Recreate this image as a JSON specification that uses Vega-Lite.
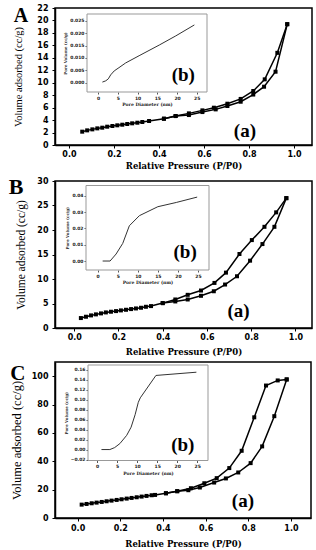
{
  "$schema": "https://vega.github.io/schema/vega-lite/v6.json",
  "padding": {"left": 8, "top": 3, "right": 0, "bottom": 0},
  "background": "white",
  "config": {
    "view": {"stroke": "black", "strokeWidth": 1.5, "fill": "white"}
  },
  "datasets": {
    "isoA": [
      {"p":0.059,"v":2.14,"branch":"ads"},{"p":0.081,"v":2.35,"branch":"ads"},{"p":0.104,"v":2.51,"branch":"ads"},{"p":0.126,"v":2.67,"branch":"ads"},{"p":0.148,"v":2.78,"branch":"ads"},{"p":0.17,"v":2.94,"branch":"ads"},{"p":0.193,"v":3.05,"branch":"ads"},{"p":0.215,"v":3.16,"branch":"ads"},{"p":0.237,"v":3.26,"branch":"ads"},{"p":0.259,"v":3.37,"branch":"ads"},{"p":0.281,"v":3.48,"branch":"ads"},{"p":0.304,"v":3.58,"branch":"ads"},{"p":0.326,"v":3.69,"branch":"ads"},{"p":0.356,"v":3.85,"branch":"ads"},{"p":0.422,"v":4.22,"branch":"ads"},{"p":0.474,"v":4.65,"branch":"ads"},{"p":0.533,"v":4.81,"branch":"ads"},{"p":0.593,"v":5.29,"branch":"ads"},{"p":0.652,"v":5.72,"branch":"ads"},{"p":0.704,"v":6.26,"branch":"ads"},{"p":0.763,"v":6.95,"branch":"ads"},{"p":0.819,"v":8.1,"branch":"ads"},{"p":0.867,"v":9.36,"branch":"ads"},{"p":0.918,"v":11.77,"branch":"ads"},{"p":0.97,"v":19.4,"branch":"ads"},
      {"p":0.97,"v":19.4,"branch":"des"},{"p":0.926,"v":14.8,"branch":"des"},{"p":0.87,"v":10.54,"branch":"des"},{"p":0.819,"v":8.67,"branch":"des"},{"p":0.763,"v":7.4,"branch":"des"},{"p":0.704,"v":6.63,"branch":"des"},{"p":0.644,"v":5.99,"branch":"des"},{"p":0.593,"v":5.56,"branch":"des"},{"p":0.533,"v":5.08,"branch":"des"},{"p":0.474,"v":4.65,"branch":"des"},{"p":0.422,"v":4.22,"branch":"des"}
    ],
    "isoB": [
      {"p":0.03,"v":2.03,"branch":"ads"},{"p":0.053,"v":2.3,"branch":"ads"},{"p":0.076,"v":2.57,"branch":"ads"},{"p":0.098,"v":2.78,"branch":"ads"},{"p":0.121,"v":2.98,"branch":"ads"},{"p":0.143,"v":3.18,"branch":"ads"},{"p":0.166,"v":3.32,"branch":"ads"},{"p":0.189,"v":3.45,"branch":"ads"},{"p":0.211,"v":3.59,"branch":"ads"},{"p":0.234,"v":3.72,"branch":"ads"},{"p":0.257,"v":3.86,"branch":"ads"},{"p":0.279,"v":3.99,"branch":"ads"},{"p":0.302,"v":4.13,"branch":"ads"},{"p":0.324,"v":4.33,"branch":"ads"},{"p":0.347,"v":4.47,"branch":"ads"},{"p":0.4,"v":5.08,"branch":"ads"},{"p":0.457,"v":5.42,"branch":"ads"},{"p":0.513,"v":5.82,"branch":"ads"},{"p":0.573,"v":6.57,"branch":"ads"},{"p":0.631,"v":7.5,"branch":"ads"},{"p":0.682,"v":8.87,"branch":"ads"},{"p":0.736,"v":10.56,"branch":"ads"},{"p":0.795,"v":13.74,"branch":"ads"},{"p":0.851,"v":17.13,"branch":"ads"},{"p":0.905,"v":20.65,"branch":"ads"},{"p":0.959,"v":26.5,"branch":"ads"},
      {"p":0.959,"v":26.5,"branch":"des"},{"p":0.913,"v":23.6,"branch":"des"},{"p":0.86,"v":20.65,"branch":"des"},{"p":0.803,"v":17.94,"branch":"des"},{"p":0.747,"v":15.1,"branch":"des"},{"p":0.686,"v":11.3,"branch":"des"},{"p":0.634,"v":9.2,"branch":"des"},{"p":0.573,"v":7.65,"branch":"des"},{"p":0.513,"v":6.77,"branch":"des"},{"p":0.457,"v":5.82,"branch":"des"},{"p":0.4,"v":5.08,"branch":"des"}
    ],
    "isoC": [
      {"p":0.019,"v":9.43,"branch":"ads"},{"p":0.042,"v":9.9,"branch":"ads"},{"p":0.066,"v":10.38,"branch":"ads"},{"p":0.089,"v":10.85,"branch":"ads"},{"p":0.113,"v":11.32,"branch":"ads"},{"p":0.136,"v":11.79,"branch":"ads"},{"p":0.159,"v":12.26,"branch":"ads"},{"p":0.183,"v":12.74,"branch":"ads"},{"p":0.206,"v":13.2,"branch":"ads"},{"p":0.23,"v":13.68,"branch":"ads"},{"p":0.253,"v":14.15,"branch":"ads"},{"p":0.277,"v":14.62,"branch":"ads"},{"p":0.3,"v":15.1,"branch":"ads"},{"p":0.323,"v":15.57,"branch":"ads"},{"p":0.347,"v":16.04,"branch":"ads"},{"p":0.363,"v":16.27,"branch":"ads"},{"p":0.414,"v":17.45,"branch":"ads"},{"p":0.467,"v":18.9,"branch":"ads"},{"p":0.519,"v":19.6,"branch":"ads"},{"p":0.573,"v":21.5,"branch":"ads"},{"p":0.64,"v":25.0,"branch":"ads"},{"p":0.695,"v":27.9,"branch":"ads"},{"p":0.753,"v":32.1,"branch":"ads"},{"p":0.811,"v":38.7,"branch":"ads"},{"p":0.865,"v":50.5,"branch":"ads"},{"p":0.922,"v":71.8,"branch":"ads"},{"p":0.98,"v":97.7,"branch":"ads"},
      {"p":0.98,"v":97.7,"branch":"des"},{"p":0.938,"v":97.0,"branch":"des"},{"p":0.883,"v":93.4,"branch":"des"},{"p":0.828,"v":71.0,"branch":"des"},{"p":0.769,"v":47.4,"branch":"des"},{"p":0.711,"v":35.2,"branch":"des"},{"p":0.652,"v":28.1,"branch":"des"},{"p":0.594,"v":24.5,"branch":"des"},{"p":0.531,"v":21.0,"branch":"des"},{"p":0.467,"v":18.9,"branch":"des"},{"p":0.414,"v":17.45,"branch":"des"}
    ],
    "poreA": [
      {"d":1.1,"pv":0.0003},{"d":1.95,"pv":0.0008},{"d":2.6,"pv":0.0016},{"d":3.2,"pv":0.0032},{"d":4.1,"pv":0.0048},{"d":5.3,"pv":0.0061},{"d":7.0,"pv":0.008},{"d":10.4,"pv":0.0109},{"d":15.5,"pv":0.0152},{"d":19.7,"pv":0.0189},{"d":24.4,"pv":0.0233}
    ],
    "poreB": [
      {"d":1.25,"pv":0.0},{"d":3.1,"pv":0.0},{"d":4.6,"pv":0.0043},{"d":6.25,"pv":0.0108},{"d":7.9,"pv":0.0216},{"d":10.4,"pv":0.0278},{"d":15.0,"pv":0.0333},{"d":19.6,"pv":0.0359},{"d":24.8,"pv":0.0392}
    ],
    "poreC": [
      {"d":1.1,"pv":0.0},{"d":3.2,"pv":0.0},{"d":4.4,"pv":0.004},{"d":5.7,"pv":0.012},{"d":7.4,"pv":0.0286},{"d":8.5,"pv":0.045},{"d":9.5,"pv":0.07},{"d":10.3,"pv":0.095},{"d":10.8,"pv":0.104},{"d":14.7,"pv":0.149},{"d":24.8,"pv":0.1555}
    ]
  },
  "vconcat": [
    {
      "title": {"text": "A", "anchor": "start", "frame": "bounds", "orient": "top", "offset": -22, "fontSize": 20, "font": "Liberation Serif", "fontWeight": "bold", "color": "black"},
      "width": 257, "height": 137,
      "resolve": {"scale": {"x": "independent", "y": "independent"}, "axis": {"x": "independent", "y": "independent"}},
      "layer": [
        {
          "layer": [
            {
              "data": {"name": "isoA"},
              "mark": {"type": "line", "color": "black", "strokeWidth": 1.5, "point": {"shape": "square", "filled": true, "size": 16, "color": "black"}},
              "encoding": {
                "x": {"field": "p", "type": "quantitative", "scale": {"domain": [-0.062, 1.08], "nice": false, "zero": false},
                      "axis": {"orient": "bottom", "values": [0, 0.2, 0.4, 0.6, 0.8, 1.0], "format": ".1f", "grid": false, "labelOverlap": false, "labelFont": "DejaVu Sans", "labelFontWeight": "bold", "labelFontSize": 8, "labelColor": "black", "domainColor": "black", "domainWidth": 1.5, "tickColor": "black", "tickSize": 3, "tickWidth": 1, "labelPadding": 2, "title": "Relative Pressure (P/P0)", "titleColor": "black", "titleFont": "DejaVu Serif", "titleFontWeight": "bold", "titleFontSize": 8.5, "titlePadding": 3}},
                "y": {"field": "v", "type": "quantitative", "scale": {"domain": [0, 22], "nice": false},
                      "axis": {"orient": "left", "values": [0,2,4,6,8,10,12,14,16,18,20,22], "grid": false, "labelOverlap": false, "labelFont": "DejaVu Sans", "labelFontWeight": "bold", "labelFontSize": 8, "labelColor": "black", "domainColor": "black", "domainWidth": 1.5, "tickColor": "black", "tickSize": 3, "tickWidth": 1, "labelPadding": 4, "title": "Volume adsorbed (cc/g)", "titleColor": "black", "titleFont": "Liberation Serif", "titleFontWeight": "normal", "titleFontSize": 10.5, "titlePadding": 13}},
                "detail": {"field": "branch"}
              }
            },
            {
              "data": {"values": [{}]},
              "mark": {"type": "text", "text": "(a)", "font": "Liberation Serif", "fontWeight": "bold", "fontSize": 19, "color": "black", "baseline": "middle"},
              "encoding": {
                "x": {"datum": 0.782, "type": "quantitative", "axis": {"orient": "bottom", "values": [0, 0.2, 0.4, 0.6, 0.8, 1.0], "format": ".1f", "grid": false, "labelOverlap": false, "labelFont": "DejaVu Sans", "labelFontWeight": "bold", "labelFontSize": 8, "labelColor": "black", "domainColor": "black", "domainWidth": 1.5, "tickColor": "black", "tickSize": 3, "tickWidth": 1, "labelPadding": 2, "title": "Relative Pressure (P/P0)", "titleColor": "black", "titleFont": "DejaVu Serif", "titleFontWeight": "bold", "titleFontSize": 8.5, "titlePadding": 3}},
                "y": {"datum": 2.25, "type": "quantitative", "axis": {"orient": "left", "values": [0,2,4,6,8,10,12,14,16,18,20,22], "grid": false, "labelOverlap": false, "labelFont": "DejaVu Sans", "labelFontWeight": "bold", "labelFontSize": 8, "labelColor": "black", "domainColor": "black", "domainWidth": 1.5, "tickColor": "black", "tickSize": 3, "tickWidth": 1, "labelPadding": 4, "title": "Volume adsorbed (cc/g)", "titleColor": "black", "titleFont": "Liberation Serif", "titleFontWeight": "normal", "titleFontSize": 10.5, "titlePadding": 13}}
              }
            }
          ]
        },
        {
          "layer": [
            {
              "data": {"values": [{}]},
              "mark": {"type": "rect", "fill": "white", "stroke": "#999", "strokeWidth": 1},
              "encoding": {
                "x": {"datum": -2.8, "type": "quantitative", "scale": {"domain": [-2.8, 27.6], "range": [32, 152], "nice": false, "zero": false},
                      "axis": {"orient": "bottom", "offset": -53, "domain": false, "grid": false, "labelOverlap": false, "values": [0,5,10,15,20,25], "labelFont": "DejaVu Sans", "labelFontWeight": "bold", "labelFontSize": 4.5, "tickSize": 2, "labelPadding": 1, "tickColor": "#555", "labelColor": "#222", "title": "Pore Diameter (nm)", "titleColor": "#222", "titleFont": "DejaVu Serif", "titleFontWeight": "bold", "titleFontSize": 4.5, "titlePadding": 2}},
                "x2": {"datum": 27.6},
                "y": {"datum": -0.0037, "type": "quantitative", "scale": {"domain": [-0.0037, 0.0277], "range": [84, 6], "nice": false, "zero": false},
                      "axis": {"orient": "left", "offset": -32, "domain": false, "grid": false, "labelOverlap": false, "values": [0, 0.005, 0.01, 0.015, 0.02, 0.025], "format": ".3f", "labelFont": "DejaVu Sans", "labelFontWeight": "bold", "labelFontSize": 4.5, "tickSize": 2, "labelPadding": 1, "tickColor": "#555", "labelColor": "#222", "title": "Pore Volume (cc/g)", "titleColor": "#222", "titleFont": "DejaVu Serif", "titleFontWeight": "bold", "titleFontSize": 4, "titlePadding": 2}},
                "y2": {"datum": 0.0277}
              }
            },
            {
              "data": {"name": "poreA"},
              "mark": {"type": "line", "color": "#333", "strokeWidth": 1},
              "encoding": {
                "x": {"field": "d", "type": "quantitative", "axis": {"orient": "bottom", "offset": -53, "domain": false, "grid": false, "labelOverlap": false, "values": [0,5,10,15,20,25], "labelFont": "DejaVu Sans", "labelFontWeight": "bold", "labelFontSize": 4.5, "tickSize": 2, "labelPadding": 1, "tickColor": "#555", "labelColor": "#222", "title": "Pore Diameter (nm)", "titleColor": "#222", "titleFont": "DejaVu Serif", "titleFontWeight": "bold", "titleFontSize": 4.5, "titlePadding": 2}},
                "y": {"field": "pv", "type": "quantitative", "axis": {"orient": "left", "offset": -32, "domain": false, "grid": false, "labelOverlap": false, "values": [0, 0.005, 0.01, 0.015, 0.02, 0.025], "format": ".3f", "labelFont": "DejaVu Sans", "labelFontWeight": "bold", "labelFontSize": 4.5, "tickSize": 2, "labelPadding": 1, "tickColor": "#555", "labelColor": "#222", "title": "Pore Volume (cc/g)", "titleColor": "#222", "titleFont": "DejaVu Serif", "titleFontWeight": "bold", "titleFontSize": 4, "titlePadding": 2}}
              }
            },
            {
              "data": {"values": [{}]},
              "mark": {"type": "text", "text": "(b)", "font": "Liberation Serif", "fontWeight": "bold", "fontSize": 19, "color": "black", "baseline": "middle"},
              "encoding": {
                "x": {"datum": 21.6, "type": "quantitative", "axis": {"orient": "bottom", "offset": -53, "domain": false, "grid": false, "labelOverlap": false, "values": [0,5,10,15,20,25], "labelFont": "DejaVu Sans", "labelFontWeight": "bold", "labelFontSize": 4.5, "tickSize": 2, "labelPadding": 1, "tickColor": "#555", "labelColor": "#222", "title": "Pore Diameter (nm)", "titleColor": "#222", "titleFont": "DejaVu Serif", "titleFontWeight": "bold", "titleFontSize": 4.5, "titlePadding": 2}},
                "y": {"datum": 0.0033, "type": "quantitative", "axis": {"orient": "left", "offset": -32, "domain": false, "grid": false, "labelOverlap": false, "values": [0, 0.005, 0.01, 0.015, 0.02, 0.025], "format": ".3f", "labelFont": "DejaVu Sans", "labelFontWeight": "bold", "labelFontSize": 4.5, "tickSize": 2, "labelPadding": 1, "tickColor": "#555", "labelColor": "#222", "title": "Pore Volume (cc/g)", "titleColor": "#222", "titleFont": "DejaVu Serif", "titleFontWeight": "bold", "titleFontSize": 4, "titlePadding": 2}}
              }
            }
          ]
        }
      ]
    },
    {
      "title": {"text": "B", "anchor": "start", "frame": "bounds", "orient": "top", "offset": -22, "dx": -7, "fontSize": 22, "font": "Liberation Serif", "fontWeight": "bold", "color": "black"},
      "width": 257, "height": 147,
      "resolve": {"scale": {"x": "independent", "y": "independent"}, "axis": {"x": "independent", "y": "independent"}},
      "layer": [
        {
          "layer": [
            {
              "data": {"name": "isoB"},
              "mark": {"type": "line", "color": "black", "strokeWidth": 1.5, "point": {"shape": "square", "filled": true, "size": 16, "color": "black"}},
              "encoding": {
                "x": {"field": "p", "type": "quantitative", "scale": {"domain": [-0.087, 1.075], "nice": false, "zero": false},
                      "axis": {"orient": "bottom", "values": [0, 0.2, 0.4, 0.6, 0.8, 1.0], "format": ".1f", "grid": false, "labelOverlap": false, "labelFont": "DejaVu Sans", "labelFontWeight": "bold", "labelFontSize": 8, "labelColor": "black", "domainColor": "black", "domainWidth": 1.5, "tickColor": "black", "tickSize": 3, "tickWidth": 1, "labelPadding": 2, "title": "Relative Pressure (P/P0)", "titleColor": "black", "titleFont": "DejaVu Serif", "titleFontWeight": "bold", "titleFontSize": 8.5, "titlePadding": 6}},
                "y": {"field": "v", "type": "quantitative", "scale": {"domain": [0, 30], "nice": false},
                      "axis": {"orient": "left", "values": [0,5,10,15,20,25,30], "grid": false, "labelOverlap": false, "labelFont": "DejaVu Sans", "labelFontWeight": "bold", "labelFontSize": 8, "labelColor": "black", "domainColor": "black", "domainWidth": 1.5, "tickColor": "black", "tickSize": 3, "tickWidth": 1, "labelPadding": 4, "title": "Volume adsorbed (cc/g)", "titleColor": "black", "titleFont": "Liberation Serif", "titleFontWeight": "normal", "titleFontSize": 11.5, "titlePadding": 10}},
                "detail": {"field": "branch"}
              }
            },
            {
              "data": {"values": [{}]},
              "mark": {"type": "text", "text": "(a)", "font": "Liberation Serif", "fontWeight": "bold", "fontSize": 19, "color": "black", "baseline": "middle"},
              "encoding": {
                "x": {"datum": 0.743, "type": "quantitative", "axis": {"orient": "bottom", "values": [0, 0.2, 0.4, 0.6, 0.8, 1.0], "format": ".1f", "grid": false, "labelOverlap": false, "labelFont": "DejaVu Sans", "labelFontWeight": "bold", "labelFontSize": 8, "labelColor": "black", "domainColor": "black", "domainWidth": 1.5, "tickColor": "black", "tickSize": 3, "tickWidth": 1, "labelPadding": 2, "title": "Relative Pressure (P/P0)", "titleColor": "black", "titleFont": "DejaVu Serif", "titleFontWeight": "bold", "titleFontSize": 8.5, "titlePadding": 6}},
                "y": {"datum": 3.5, "type": "quantitative", "axis": {"orient": "left", "values": [0,5,10,15,20,25,30], "grid": false, "labelOverlap": false, "labelFont": "DejaVu Sans", "labelFontWeight": "bold", "labelFontSize": 8, "labelColor": "black", "domainColor": "black", "domainWidth": 1.5, "tickColor": "black", "tickSize": 3, "tickWidth": 1, "labelPadding": 4, "title": "Volume adsorbed (cc/g)", "titleColor": "black", "titleFont": "Liberation Serif", "titleFontWeight": "normal", "titleFontSize": 11.5, "titlePadding": 10}}
              }
            }
          ]
        },
        {
          "layer": [
            {
              "data": {"values": [{}]},
              "mark": {"type": "rect", "fill": "white", "stroke": "#999", "strokeWidth": 1},
              "encoding": {
                "x": {"datum": -2.9, "type": "quantitative", "scale": {"domain": [-2.9, 27.75], "range": [31, 154], "nice": false, "zero": false},
                      "axis": {"orient": "bottom", "offset": -58, "domain": false, "grid": false, "labelOverlap": false, "values": [0,5,10,15,20,25], "labelFont": "DejaVu Sans", "labelFontWeight": "bold", "labelFontSize": 4.5, "tickSize": 2, "labelPadding": 1, "tickColor": "#555", "labelColor": "#222", "title": "Pore Diameter (nm)", "titleColor": "#222", "titleFont": "DejaVu Serif", "titleFontWeight": "bold", "titleFontSize": 4.5, "titlePadding": 2}},
                "x2": {"datum": 27.75},
                "y": {"datum": -0.0055, "type": "quantitative", "scale": {"domain": [-0.0055, 0.0463], "range": [89, 4.5], "nice": false, "zero": false},
                      "axis": {"orient": "left", "offset": -31, "domain": false, "grid": false, "labelOverlap": false, "values": [0, 0.01, 0.02, 0.03, 0.04], "format": ".2f", "labelFont": "DejaVu Sans", "labelFontWeight": "bold", "labelFontSize": 4.5, "tickSize": 2, "labelPadding": 1, "tickColor": "#555", "labelColor": "#222", "title": "Pore Volume (cc/g)", "titleColor": "#222", "titleFont": "DejaVu Serif", "titleFontWeight": "bold", "titleFontSize": 4, "titlePadding": 2}},
                "y2": {"datum": 0.0463}
              }
            },
            {
              "data": {"name": "poreB"},
              "mark": {"type": "line", "color": "#333", "strokeWidth": 1},
              "encoding": {
                "x": {"field": "d", "type": "quantitative", "axis": {"orient": "bottom", "offset": -58, "domain": false, "grid": false, "labelOverlap": false, "values": [0,5,10,15,20,25], "labelFont": "DejaVu Sans", "labelFontWeight": "bold", "labelFontSize": 4.5, "tickSize": 2, "labelPadding": 1, "tickColor": "#555", "labelColor": "#222", "title": "Pore Diameter (nm)", "titleColor": "#222", "titleFont": "DejaVu Serif", "titleFontWeight": "bold", "titleFontSize": 4.5, "titlePadding": 2}},
                "y": {"field": "pv", "type": "quantitative", "axis": {"orient": "left", "offset": -31, "domain": false, "grid": false, "labelOverlap": false, "values": [0, 0.01, 0.02, 0.03, 0.04], "format": ".2f", "labelFont": "DejaVu Sans", "labelFontWeight": "bold", "labelFontSize": 4.5, "tickSize": 2, "labelPadding": 1, "tickColor": "#555", "labelColor": "#222", "title": "Pore Volume (cc/g)", "titleColor": "#222", "titleFont": "DejaVu Serif", "titleFontWeight": "bold", "titleFontSize": 4, "titlePadding": 2}}
              }
            },
            {
              "data": {"values": [{}]},
              "mark": {"type": "text", "text": "(b)", "font": "Liberation Serif", "fontWeight": "bold", "fontSize": 19, "color": "black", "baseline": "middle"},
              "encoding": {
                "x": {"datum": 21.8, "type": "quantitative", "axis": {"orient": "bottom", "offset": -58, "domain": false, "grid": false, "labelOverlap": false, "values": [0,5,10,15,20,25], "labelFont": "DejaVu Sans", "labelFontWeight": "bold", "labelFontSize": 4.5, "tickSize": 2, "labelPadding": 1, "tickColor": "#555", "labelColor": "#222", "title": "Pore Diameter (nm)", "titleColor": "#222", "titleFont": "DejaVu Serif", "titleFontWeight": "bold", "titleFontSize": 4.5, "titlePadding": 2}},
                "y": {"datum": 0.0055, "type": "quantitative", "axis": {"orient": "left", "offset": -31, "domain": false, "grid": false, "labelOverlap": false, "values": [0, 0.01, 0.02, 0.03, 0.04], "format": ".2f", "labelFont": "DejaVu Sans", "labelFontWeight": "bold", "labelFontSize": 4.5, "tickSize": 2, "labelPadding": 1, "tickColor": "#555", "labelColor": "#222", "title": "Pore Volume (cc/g)", "titleColor": "#222", "titleFont": "DejaVu Serif", "titleFontWeight": "bold", "titleFontSize": 4, "titlePadding": 2}}
              }
            }
          ]
        }
      ]
    },
    {
      "title": {"text": "C", "anchor": "start", "frame": "bounds", "orient": "top", "offset": -22, "fontSize": 21, "font": "Liberation Serif", "fontWeight": "bold", "color": "black"},
      "width": 256, "height": 156,
      "resolve": {"scale": {"x": "independent", "y": "independent"}, "axis": {"x": "independent", "y": "independent"}},
      "layer": [
        {
          "layer": [
            {
              "data": {"name": "isoC"},
              "mark": {"type": "line", "color": "black", "strokeWidth": 1.5, "point": {"shape": "square", "filled": true, "size": 16, "color": "black"}},
              "encoding": {
                "x": {"field": "p", "type": "quantitative", "scale": {"domain": [-0.106, 1.094], "nice": false, "zero": false},
                      "axis": {"orient": "bottom", "values": [0, 0.2, 0.4, 0.6, 0.8, 1.0], "format": ".1f", "grid": false, "labelOverlap": false, "labelFont": "DejaVu Sans", "labelFontWeight": "bold", "labelFontSize": 8, "labelColor": "black", "domainColor": "black", "domainWidth": 1.5, "tickColor": "black", "tickSize": 3, "tickWidth": 1, "labelPadding": 3, "title": "Relative Pressure (P/P0)", "titleColor": "black", "titleFont": "DejaVu Serif", "titleFontWeight": "bold", "titleFontSize": 8.5, "titlePadding": 7}},
                "y": {"field": "v", "type": "quantitative", "scale": {"domain": [0, 110], "nice": false},
                      "axis": {"orient": "left", "values": [0,20,40,60,80,100], "grid": false, "labelOverlap": false, "labelFont": "DejaVu Sans", "labelFontWeight": "bold", "labelFontSize": 8, "labelColor": "black", "domainColor": "black", "domainWidth": 1.5, "tickColor": "black", "tickSize": 3, "tickWidth": 1, "labelPadding": 4, "title": "Volume adsorbed (cc/g)", "titleColor": "black", "titleFont": "Liberation Serif", "titleFontWeight": "normal", "titleFontSize": 12.5, "titlePadding": 8}},
                "detail": {"field": "branch"}
              }
            },
            {
              "data": {"values": [{}]},
              "mark": {"type": "text", "text": "(a)", "font": "Liberation Serif", "fontWeight": "bold", "fontSize": 19, "color": "black", "baseline": "middle"},
              "encoding": {
                "x": {"datum": 0.775, "type": "quantitative", "axis": {"orient": "bottom", "values": [0, 0.2, 0.4, 0.6, 0.8, 1.0], "format": ".1f", "grid": false, "labelOverlap": false, "labelFont": "DejaVu Sans", "labelFontWeight": "bold", "labelFontSize": 8, "labelColor": "black", "domainColor": "black", "domainWidth": 1.5, "tickColor": "black", "tickSize": 3, "tickWidth": 1, "labelPadding": 3, "title": "Relative Pressure (P/P0)", "titleColor": "black", "titleFont": "DejaVu Serif", "titleFontWeight": "bold", "titleFontSize": 8.5, "titlePadding": 7}},
                "y": {"datum": 12, "type": "quantitative", "axis": {"orient": "left", "values": [0,20,40,60,80,100], "grid": false, "labelOverlap": false, "labelFont": "DejaVu Sans", "labelFontWeight": "bold", "labelFontSize": 8, "labelColor": "black", "domainColor": "black", "domainWidth": 1.5, "tickColor": "black", "tickSize": 3, "tickWidth": 1, "labelPadding": 4, "title": "Volume adsorbed (cc/g)", "titleColor": "black", "titleFont": "Liberation Serif", "titleFontWeight": "normal", "titleFontSize": 12.5, "titlePadding": 8}}
              }
            }
          ]
        },
        {
          "layer": [
            {
              "data": {"values": [{}]},
              "mark": {"type": "rect", "fill": "white", "stroke": "#999", "strokeWidth": 1},
              "encoding": {
                "x": {"datum": -2.26, "type": "quantitative", "scale": {"domain": [-2.26, 27.7], "range": [33, 153], "nice": false, "zero": false},
                      "axis": {"orient": "bottom", "offset": -57.5, "domain": false, "grid": false, "labelOverlap": false, "values": [0,5,10,15,20,25], "labelFont": "DejaVu Sans", "labelFontWeight": "bold", "labelFontSize": 4.5, "tickSize": 2, "labelPadding": 1, "tickColor": "#555", "labelColor": "#222", "title": "Pore Diameter (nm)", "titleColor": "#222", "titleFont": "DejaVu Serif", "titleFontWeight": "bold", "titleFontSize": 4.5, "titlePadding": 2}},
                "x2": {"datum": 27.7},
                "y": {"datum": -0.022, "type": "quantitative", "scale": {"domain": [-0.022, 0.17], "range": [98.5, 3], "nice": false, "zero": false},
                      "axis": {"orient": "left", "offset": -33, "domain": false, "grid": false, "labelOverlap": false, "values": [-0.02, 0, 0.02, 0.04, 0.06, 0.08, 0.1, 0.12, 0.14, 0.16], "format": ".2f", "labelFont": "DejaVu Sans", "labelFontWeight": "bold", "labelFontSize": 4.5, "tickSize": 2, "labelPadding": 1, "tickColor": "#555", "labelColor": "#222", "title": "Pore Volume (cc/g)", "titleColor": "#222", "titleFont": "DejaVu Serif", "titleFontWeight": "bold", "titleFontSize": 4, "titlePadding": 2}},
                "y2": {"datum": 0.17}
              }
            },
            {
              "data": {"name": "poreC"},
              "mark": {"type": "line", "color": "#333", "strokeWidth": 1},
              "encoding": {
                "x": {"field": "d", "type": "quantitative", "axis": {"orient": "bottom", "offset": -57.5, "domain": false, "grid": false, "labelOverlap": false, "values": [0,5,10,15,20,25], "labelFont": "DejaVu Sans", "labelFontWeight": "bold", "labelFontSize": 4.5, "tickSize": 2, "labelPadding": 1, "tickColor": "#555", "labelColor": "#222", "title": "Pore Diameter (nm)", "titleColor": "#222", "titleFont": "DejaVu Serif", "titleFontWeight": "bold", "titleFontSize": 4.5, "titlePadding": 2}},
                "y": {"field": "pv", "type": "quantitative", "axis": {"orient": "left", "offset": -33, "domain": false, "grid": false, "labelOverlap": false, "values": [-0.02, 0, 0.02, 0.04, 0.06, 0.08, 0.1, 0.12, 0.14, 0.16], "format": ".2f", "labelFont": "DejaVu Sans", "labelFontWeight": "bold", "labelFontSize": 4.5, "tickSize": 2, "labelPadding": 1, "tickColor": "#555", "labelColor": "#222", "title": "Pore Volume (cc/g)", "titleColor": "#222", "titleFont": "DejaVu Serif", "titleFontWeight": "bold", "titleFontSize": 4, "titlePadding": 2}}
              }
            },
            {
              "data": {"values": [{}]},
              "mark": {"type": "text", "text": "(b)", "font": "Liberation Serif", "fontWeight": "bold", "fontSize": 19, "color": "black", "baseline": "middle"},
              "encoding": {
                "x": {"datum": 21.4, "type": "quantitative", "axis": {"orient": "bottom", "offset": -57.5, "domain": false, "grid": false, "labelOverlap": false, "values": [0,5,10,15,20,25], "labelFont": "DejaVu Sans", "labelFontWeight": "bold", "labelFontSize": 4.5, "tickSize": 2, "labelPadding": 1, "tickColor": "#555", "labelColor": "#222", "title": "Pore Diameter (nm)", "titleColor": "#222", "titleFont": "DejaVu Serif", "titleFontWeight": "bold", "titleFontSize": 4.5, "titlePadding": 2}},
                "y": {"datum": 0.009, "type": "quantitative", "axis": {"orient": "left", "offset": -33, "domain": false, "grid": false, "labelOverlap": false, "values": [-0.02, 0, 0.02, 0.04, 0.06, 0.08, 0.1, 0.12, 0.14, 0.16], "format": ".2f", "labelFont": "DejaVu Sans", "labelFontWeight": "bold", "labelFontSize": 4.5, "tickSize": 2, "labelPadding": 1, "tickColor": "#555", "labelColor": "#222", "title": "Pore Volume (cc/g)", "titleColor": "#222", "titleFont": "DejaVu Serif", "titleFontWeight": "bold", "titleFontSize": 4, "titlePadding": 2}}
              }
            }
          ]
        }
      ]
    }
  ],
  "spacing": 4
}
